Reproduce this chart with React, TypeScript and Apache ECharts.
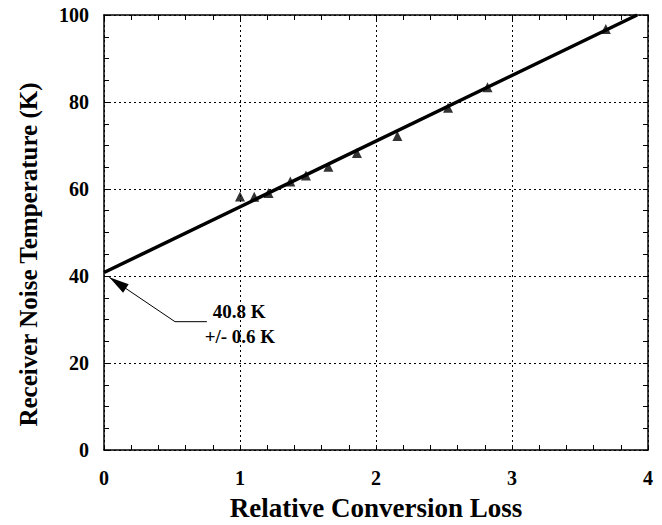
import React, { useEffect, useRef } from "react";
import * as echarts from "echarts";

const lossValues = [1.0, 1.105, 1.21, 1.37, 1.485, 1.65, 1.86, 2.157, 2.53, 2.82, 3.69];
const noiseTemps = [58.3, 58.2, 59.1, 61.7, 63.1, 65.1, 68.3, 72.2, 78.7, 83.4, 96.8];
const fitX = [0, 3.92];
const fitY = [40.8, 100];
const xTitle = "Relative Conversion Loss";
const yTitle = "Receiver Noise Temperature (K)";
const annotationLines = ["40.8 K", "+/- 0.6 K"];
const arrowPath = [[0.039, 39.7], [0.522, 29.5], [0.757, 29.5]];
const textAnchors = [[0.80, 31.8], [0.74, 26.2]];

const FONT = "'Liberation Serif', 'Times New Roman', serif";

export default function App() {
  const ref = useRef<HTMLDivElement>(null);
  useEffect(() => {
    const chart = echarts.init(ref.current!, null, { renderer: "svg" });
    const label = (show: boolean, margin: number) => ({
      show,
      margin,
      color: "#000",
      fontFamily: FONT,
      fontWeight: "bold" as const,
      fontSize: 20,
    });
    const common = {
      type: "value" as const,
      axisLine: { show: true, onZero: false, lineStyle: { color: "#000", width: 1.5 } },
      axisTick: { show: true, inside: true, length: 5, lineStyle: { color: "#000", width: 1 } },
    };
    const dotted = { show: true, lineStyle: { color: "#000", type: [2, 3], width: 1 } };
    const left = 104, right = 14, top = 15, bottom = 75;
    chart.setOption({
      animation: false,
      backgroundColor: "#fff",
      grid: { left, right, top, bottom },
      xAxis: [
        {
          ...common,
          min: 0,
          max: 4,
          interval: 1,
          minorTick: { show: true, splitNumber: 5, length: 5, lineStyle: { color: "#000" } },
          axisLabel: label(true, 18),
          splitLine: dotted,
        },
        {
          ...common,
          position: "top",
          min: 0,
          max: 4,
          interval: 1,
          minorTick: { show: true, splitNumber: 5, length: 5, lineStyle: { color: "#000" } },
          axisLabel: label(false, 8),
          splitLine: { show: false },
        },
      ],
      yAxis: [
        {
          ...common,
          min: 0,
          max: 100,
          interval: 20,
          minorTick: { show: true, splitNumber: 4, length: 5, lineStyle: { color: "#000" } },
          axisLabel: label(true, 15),
          splitLine: dotted,
        },
        {
          ...common,
          position: "right",
          min: 0,
          max: 100,
          interval: 20,
          minorTick: { show: true, splitNumber: 4, length: 5, lineStyle: { color: "#000" } },
          axisLabel: label(false, 8),
          splitLine: { show: false },
        },
      ],
      series: [
        {
          type: "line",
          data: fitX.map((x, i) => [x, fitY[i]]),
          showSymbol: false,
          symbol: "none",
          lineStyle: { color: "#000", width: 3.5 },
          clip: true,
          z: 3,
        },
        {
          type: "scatter",
          data: lossValues.map((x, i) => [x, noiseTemps[i]]),
          symbol: "triangle",
          symbolSize: 10,
          itemStyle: { color: "#000" },
          z: 4,
        },
      ],
    });

    const W = 662, H = 525;
    const px = (p: number[]) => chart.convertToPixel({ xAxisIndex: 0, yAxisIndex: 0 }, p) as number[];
    const pts = arrowPath.map(px);
    const tip = pts[0];
    const nxt = pts[1];
    const ang = Math.atan2(nxt[1] - tip[1], nxt[0] - tip[0]);
    const headLen = 20;
    const headHalf = 5;
    const bx = tip[0] + headLen * Math.cos(ang);
    const by = tip[1] + headLen * Math.sin(ang);
    const head = [
      tip,
      [bx - headHalf * Math.sin(ang), by + headHalf * Math.cos(ang)],
      [bx + headHalf * Math.sin(ang), by - headHalf * Math.cos(ang)],
    ];
    chart.setOption({
      graphic: [
        { type: "polyline", shape: { points: pts }, style: { stroke: "#000", lineWidth: 1, fill: null } },
        { type: "polygon", shape: { points: head }, style: { fill: "#000" } },
        ...annotationLines.map((t, i) => {
          const p = px(textAnchors[i]);
          return {
            type: "text",
            x: p[0],
            y: p[1],
            style: {
              text: t,
              fill: "#000",
              font: `bold 19px ${FONT}`,
              textAlign: "left",
              textVerticalAlign: "middle",
            },
          };
        }),
        {
          type: "text",
          x: left + (W - left - right) / 2,
          y: 508,
          style: {
            text: xTitle,
            fill: "#000",
            font: `bold 27px ${FONT}`,
            textAlign: "center",
            textVerticalAlign: "middle",
          },
        },
        {
          type: "text",
          x: 28,
          y: top + (H - top - bottom) / 2 + 22,
          rotation: Math.PI / 2,
          style: {
            text: yTitle,
            fill: "#000",
            font: `bold 25px ${FONT}`,
            textAlign: "center",
            textVerticalAlign: "middle",
          },
        },
      ],
    });
    return () => chart.dispose();
  }, []);
  return (
    <div
      ref={ref}
      style={{ position: "fixed", left: 0, top: 0, width: 662, height: 525, background: "#fff" }}
    />
  );
}
